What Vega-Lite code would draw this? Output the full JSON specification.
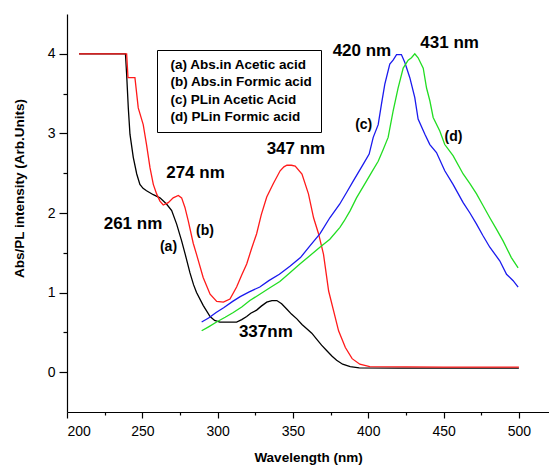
{
  "$schema": "https://vega.github.io/schema/vega-lite/v6.json",
  "width": 482,
  "height": 398,
  "autosize": "none",
  "padding": {"left": 67, "top": 14, "right": 0, "bottom": 53},
  "config": {
    "view": {"stroke": null},
    "font": "Liberation Sans",
    "axis": {"grid": false, "domainColor": "black", "tickColor": "black", "domainWidth": 1.2, "tickWidth": 1.2, "labelColor": "black", "titleColor": "black", "labelFont": "Liberation Sans", "titleFont": "Liberation Sans", "labelFontSize": 14, "titleFontSize": 13.5, "titleFontWeight": "bold"}
  },
  "datasets": {
    "spectra": [
      {"s": "(a) Abs.in Acetic acid", "x": 208, "y": 4},
      {"s": "(a) Abs.in Acetic acid", "x": 238.8, "y": 4},
      {"s": "(a) Abs.in Acetic acid", "x": 239.6, "y": 3.74},
      {"s": "(a) Abs.in Acetic acid", "x": 240.7, "y": 3.32},
      {"s": "(a) Abs.in Acetic acid", "x": 241.8, "y": 2.99},
      {"s": "(a) Abs.in Acetic acid", "x": 244, "y": 2.7},
      {"s": "(a) Abs.in Acetic acid", "x": 246.3, "y": 2.49},
      {"s": "(a) Abs.in Acetic acid", "x": 248.4, "y": 2.36},
      {"s": "(a) Abs.in Acetic acid", "x": 250.5, "y": 2.31},
      {"s": "(a) Abs.in Acetic acid", "x": 252.8, "y": 2.28},
      {"s": "(a) Abs.in Acetic acid", "x": 257.3, "y": 2.23},
      {"s": "(a) Abs.in Acetic acid", "x": 261.7, "y": 2.19},
      {"s": "(a) Abs.in Acetic acid", "x": 264, "y": 2.15},
      {"s": "(a) Abs.in Acetic acid", "x": 266.2, "y": 2.11},
      {"s": "(a) Abs.in Acetic acid", "x": 269.5, "y": 2.03},
      {"s": "(a) Abs.in Acetic acid", "x": 272.8, "y": 1.86},
      {"s": "(a) Abs.in Acetic acid", "x": 276.1, "y": 1.65},
      {"s": "(a) Abs.in Acetic acid", "x": 278.5, "y": 1.48},
      {"s": "(a) Abs.in Acetic acid", "x": 281.6, "y": 1.25},
      {"s": "(a) Abs.in Acetic acid", "x": 284, "y": 1.1},
      {"s": "(a) Abs.in Acetic acid", "x": 286, "y": 1.0},
      {"s": "(a) Abs.in Acetic acid", "x": 290.4, "y": 0.84},
      {"s": "(a) Abs.in Acetic acid", "x": 295, "y": 0.7},
      {"s": "(a) Abs.in Acetic acid", "x": 298, "y": 0.65},
      {"s": "(a) Abs.in Acetic acid", "x": 301.5, "y": 0.63},
      {"s": "(a) Abs.in Acetic acid", "x": 307, "y": 0.63},
      {"s": "(a) Abs.in Acetic acid", "x": 312.6, "y": 0.63},
      {"s": "(a) Abs.in Acetic acid", "x": 316, "y": 0.66},
      {"s": "(a) Abs.in Acetic acid", "x": 319.3, "y": 0.7},
      {"s": "(a) Abs.in Acetic acid", "x": 322, "y": 0.74},
      {"s": "(a) Abs.in Acetic acid", "x": 325.9, "y": 0.78},
      {"s": "(a) Abs.in Acetic acid", "x": 329, "y": 0.83},
      {"s": "(a) Abs.in Acetic acid", "x": 332.6, "y": 0.88},
      {"s": "(a) Abs.in Acetic acid", "x": 336, "y": 0.9},
      {"s": "(a) Abs.in Acetic acid", "x": 339.3, "y": 0.9},
      {"s": "(a) Abs.in Acetic acid", "x": 342.5, "y": 0.86},
      {"s": "(a) Abs.in Acetic acid", "x": 346, "y": 0.79},
      {"s": "(a) Abs.in Acetic acid", "x": 349, "y": 0.73},
      {"s": "(a) Abs.in Acetic acid", "x": 352.6, "y": 0.67},
      {"s": "(a) Abs.in Acetic acid", "x": 356, "y": 0.6},
      {"s": "(a) Abs.in Acetic acid", "x": 359, "y": 0.55},
      {"s": "(a) Abs.in Acetic acid", "x": 362.5, "y": 0.49},
      {"s": "(a) Abs.in Acetic acid", "x": 366, "y": 0.41},
      {"s": "(a) Abs.in Acetic acid", "x": 369, "y": 0.34},
      {"s": "(a) Abs.in Acetic acid", "x": 372.5, "y": 0.27},
      {"s": "(a) Abs.in Acetic acid", "x": 376, "y": 0.2},
      {"s": "(a) Abs.in Acetic acid", "x": 379, "y": 0.15},
      {"s": "(a) Abs.in Acetic acid", "x": 383, "y": 0.1},
      {"s": "(a) Abs.in Acetic acid", "x": 388, "y": 0.07},
      {"s": "(a) Abs.in Acetic acid", "x": 394, "y": 0.055},
      {"s": "(a) Abs.in Acetic acid", "x": 420, "y": 0.05},
      {"s": "(a) Abs.in Acetic acid", "x": 460, "y": 0.05},
      {"s": "(a) Abs.in Acetic acid", "x": 500, "y": 0.05},
      {"s": "(b) Abs.in Formic acid", "x": 208, "y": 4},
      {"s": "(b) Abs.in Formic acid", "x": 239.6, "y": 4},
      {"s": "(b) Abs.in Formic acid", "x": 240.5, "y": 3.7},
      {"s": "(b) Abs.in Formic acid", "x": 245.1, "y": 3.7},
      {"s": "(b) Abs.in Formic acid", "x": 247.3, "y": 3.32},
      {"s": "(b) Abs.in Formic acid", "x": 250.6, "y": 3.11},
      {"s": "(b) Abs.in Formic acid", "x": 252.8, "y": 2.86},
      {"s": "(b) Abs.in Formic acid", "x": 255.1, "y": 2.57},
      {"s": "(b) Abs.in Formic acid", "x": 257.3, "y": 2.36},
      {"s": "(b) Abs.in Formic acid", "x": 259.5, "y": 2.24},
      {"s": "(b) Abs.in Formic acid", "x": 261.7, "y": 2.15},
      {"s": "(b) Abs.in Formic acid", "x": 263.9, "y": 2.1},
      {"s": "(b) Abs.in Formic acid", "x": 267.2, "y": 2.13},
      {"s": "(b) Abs.in Formic acid", "x": 270.5, "y": 2.19},
      {"s": "(b) Abs.in Formic acid", "x": 273.9, "y": 2.22},
      {"s": "(b) Abs.in Formic acid", "x": 276.1, "y": 2.19},
      {"s": "(b) Abs.in Formic acid", "x": 278.3, "y": 2.07},
      {"s": "(b) Abs.in Formic acid", "x": 280.5, "y": 1.9},
      {"s": "(b) Abs.in Formic acid", "x": 283.8, "y": 1.62},
      {"s": "(b) Abs.in Formic acid", "x": 286, "y": 1.48},
      {"s": "(b) Abs.in Formic acid", "x": 290.4, "y": 1.19},
      {"s": "(b) Abs.in Formic acid", "x": 295, "y": 0.98},
      {"s": "(b) Abs.in Formic acid", "x": 299.4, "y": 0.89},
      {"s": "(b) Abs.in Formic acid", "x": 303.8, "y": 0.88},
      {"s": "(b) Abs.in Formic acid", "x": 308.2, "y": 0.92},
      {"s": "(b) Abs.in Formic acid", "x": 312.6, "y": 1.07},
      {"s": "(b) Abs.in Formic acid", "x": 316, "y": 1.22},
      {"s": "(b) Abs.in Formic acid", "x": 319.3, "y": 1.36},
      {"s": "(b) Abs.in Formic acid", "x": 322.5, "y": 1.55},
      {"s": "(b) Abs.in Formic acid", "x": 325.9, "y": 1.74},
      {"s": "(b) Abs.in Formic acid", "x": 329, "y": 1.98},
      {"s": "(b) Abs.in Formic acid", "x": 332.6, "y": 2.2},
      {"s": "(b) Abs.in Formic acid", "x": 337, "y": 2.37},
      {"s": "(b) Abs.in Formic acid", "x": 341.5, "y": 2.53},
      {"s": "(b) Abs.in Formic acid", "x": 344, "y": 2.58},
      {"s": "(b) Abs.in Formic acid", "x": 346, "y": 2.6},
      {"s": "(b) Abs.in Formic acid", "x": 349, "y": 2.6},
      {"s": "(b) Abs.in Formic acid", "x": 351.5, "y": 2.59},
      {"s": "(b) Abs.in Formic acid", "x": 356, "y": 2.49},
      {"s": "(b) Abs.in Formic acid", "x": 360.3, "y": 2.24},
      {"s": "(b) Abs.in Formic acid", "x": 363.7, "y": 1.94},
      {"s": "(b) Abs.in Formic acid", "x": 367, "y": 1.74},
      {"s": "(b) Abs.in Formic acid", "x": 370.3, "y": 1.48},
      {"s": "(b) Abs.in Formic acid", "x": 373.7, "y": 1.02},
      {"s": "(b) Abs.in Formic acid", "x": 377, "y": 0.77},
      {"s": "(b) Abs.in Formic acid", "x": 380.3, "y": 0.52},
      {"s": "(b) Abs.in Formic acid", "x": 384.8, "y": 0.31},
      {"s": "(b) Abs.in Formic acid", "x": 389.3, "y": 0.17},
      {"s": "(b) Abs.in Formic acid", "x": 394.4, "y": 0.1},
      {"s": "(b) Abs.in Formic acid", "x": 401, "y": 0.07},
      {"s": "(b) Abs.in Formic acid", "x": 450, "y": 0.065},
      {"s": "(b) Abs.in Formic acid", "x": 500, "y": 0.065},
      {"s": "(c) PLin Acetic Acid", "x": 289.4, "y": 0.63},
      {"s": "(c) PLin Acetic Acid", "x": 294, "y": 0.68},
      {"s": "(c) PLin Acetic Acid", "x": 299, "y": 0.75},
      {"s": "(c) PLin Acetic Acid", "x": 304, "y": 0.81},
      {"s": "(c) PLin Acetic Acid", "x": 310, "y": 0.89},
      {"s": "(c) PLin Acetic Acid", "x": 315, "y": 0.95},
      {"s": "(c) PLin Acetic Acid", "x": 321, "y": 1.01},
      {"s": "(c) PLin Acetic Acid", "x": 328, "y": 1.07},
      {"s": "(c) PLin Acetic Acid", "x": 334, "y": 1.15},
      {"s": "(c) PLin Acetic Acid", "x": 341, "y": 1.23},
      {"s": "(c) PLin Acetic Acid", "x": 348, "y": 1.33},
      {"s": "(c) PLin Acetic Acid", "x": 355, "y": 1.44},
      {"s": "(c) PLin Acetic Acid", "x": 361, "y": 1.58},
      {"s": "(c) PLin Acetic Acid", "x": 368, "y": 1.74},
      {"s": "(c) PLin Acetic Acid", "x": 374.5, "y": 1.94},
      {"s": "(c) PLin Acetic Acid", "x": 381, "y": 2.11},
      {"s": "(c) PLin Acetic Acid", "x": 386, "y": 2.27},
      {"s": "(c) PLin Acetic Acid", "x": 390, "y": 2.4},
      {"s": "(c) PLin Acetic Acid", "x": 396.6, "y": 2.61},
      {"s": "(c) PLin Acetic Acid", "x": 400.6, "y": 2.74},
      {"s": "(c) PLin Acetic Acid", "x": 403.3, "y": 2.95},
      {"s": "(c) PLin Acetic Acid", "x": 406.6, "y": 3.11},
      {"s": "(c) PLin Acetic Acid", "x": 408.8, "y": 3.37},
      {"s": "(c) PLin Acetic Acid", "x": 411, "y": 3.62},
      {"s": "(c) PLin Acetic Acid", "x": 414.3, "y": 3.87},
      {"s": "(c) PLin Acetic Acid", "x": 416.5, "y": 3.92},
      {"s": "(c) PLin Acetic Acid", "x": 418.8, "y": 3.99},
      {"s": "(c) PLin Acetic Acid", "x": 422, "y": 3.99},
      {"s": "(c) PLin Acetic Acid", "x": 424.3, "y": 3.89},
      {"s": "(c) PLin Acetic Acid", "x": 427.6, "y": 3.7},
      {"s": "(c) PLin Acetic Acid", "x": 430.9, "y": 3.45},
      {"s": "(c) PLin Acetic Acid", "x": 433.1, "y": 3.18},
      {"s": "(c) PLin Acetic Acid", "x": 437.6, "y": 2.99},
      {"s": "(c) PLin Acetic Acid", "x": 440.9, "y": 2.86},
      {"s": "(c) PLin Acetic Acid", "x": 445.3, "y": 2.76},
      {"s": "(c) PLin Acetic Acid", "x": 450.8, "y": 2.53},
      {"s": "(c) PLin Acetic Acid", "x": 456.3, "y": 2.36},
      {"s": "(c) PLin Acetic Acid", "x": 463, "y": 2.13},
      {"s": "(c) PLin Acetic Acid", "x": 467.5, "y": 2.0},
      {"s": "(c) PLin Acetic Acid", "x": 471.9, "y": 1.86},
      {"s": "(c) PLin Acetic Acid", "x": 476, "y": 1.72},
      {"s": "(c) PLin Acetic Acid", "x": 480.7, "y": 1.57},
      {"s": "(c) PLin Acetic Acid", "x": 487.3, "y": 1.4},
      {"s": "(c) PLin Acetic Acid", "x": 491.8, "y": 1.23},
      {"s": "(c) PLin Acetic Acid", "x": 496.2, "y": 1.15},
      {"s": "(c) PLin Acetic Acid", "x": 499.5, "y": 1.07},
      {"s": "(d) PLin Formic acid", "x": 289.4, "y": 0.52},
      {"s": "(d) PLin Formic acid", "x": 294, "y": 0.57},
      {"s": "(d) PLin Formic acid", "x": 299.3, "y": 0.63},
      {"s": "(d) PLin Formic acid", "x": 305, "y": 0.69},
      {"s": "(d) PLin Formic acid", "x": 310.4, "y": 0.75},
      {"s": "(d) PLin Formic acid", "x": 316, "y": 0.82},
      {"s": "(d) PLin Formic acid", "x": 321.4, "y": 0.9},
      {"s": "(d) PLin Formic acid", "x": 328, "y": 0.98},
      {"s": "(d) PLin Formic acid", "x": 334.7, "y": 1.06},
      {"s": "(d) PLin Formic acid", "x": 341.3, "y": 1.14},
      {"s": "(d) PLin Formic acid", "x": 348, "y": 1.25},
      {"s": "(d) PLin Formic acid", "x": 354.6, "y": 1.36},
      {"s": "(d) PLin Formic acid", "x": 361, "y": 1.46},
      {"s": "(d) PLin Formic acid", "x": 367.9, "y": 1.57},
      {"s": "(d) PLin Formic acid", "x": 374.5, "y": 1.67},
      {"s": "(d) PLin Formic acid", "x": 381.2, "y": 1.82},
      {"s": "(d) PLin Formic acid", "x": 384, "y": 1.9},
      {"s": "(d) PLin Formic acid", "x": 388, "y": 2.03},
      {"s": "(d) PLin Formic acid", "x": 392.2, "y": 2.19},
      {"s": "(d) PLin Formic acid", "x": 398.8, "y": 2.4},
      {"s": "(d) PLin Formic acid", "x": 402.5, "y": 2.52},
      {"s": "(d) PLin Formic acid", "x": 406.6, "y": 2.65},
      {"s": "(d) PLin Formic acid", "x": 410, "y": 2.8},
      {"s": "(d) PLin Formic acid", "x": 413.2, "y": 2.95},
      {"s": "(d) PLin Formic acid", "x": 416.5, "y": 3.28},
      {"s": "(d) PLin Formic acid", "x": 419.8, "y": 3.57},
      {"s": "(d) PLin Formic acid", "x": 423.2, "y": 3.82},
      {"s": "(d) PLin Formic acid", "x": 426.5, "y": 3.92},
      {"s": "(d) PLin Formic acid", "x": 428.7, "y": 3.95},
      {"s": "(d) PLin Formic acid", "x": 430.9, "y": 4.0},
      {"s": "(d) PLin Formic acid", "x": 433.1, "y": 3.95},
      {"s": "(d) PLin Formic acid", "x": 436.5, "y": 3.82},
      {"s": "(d) PLin Formic acid", "x": 438.7, "y": 3.57},
      {"s": "(d) PLin Formic acid", "x": 440.9, "y": 3.41},
      {"s": "(d) PLin Formic acid", "x": 443.1, "y": 3.2},
      {"s": "(d) PLin Formic acid", "x": 447.5, "y": 3.03},
      {"s": "(d) PLin Formic acid", "x": 450.8, "y": 2.86},
      {"s": "(d) PLin Formic acid", "x": 456.3, "y": 2.72},
      {"s": "(d) PLin Formic acid", "x": 463, "y": 2.49},
      {"s": "(d) PLin Formic acid", "x": 467.5, "y": 2.37},
      {"s": "(d) PLin Formic acid", "x": 471.9, "y": 2.24},
      {"s": "(d) PLin Formic acid", "x": 476, "y": 2.1},
      {"s": "(d) PLin Formic acid", "x": 480.7, "y": 1.94},
      {"s": "(d) PLin Formic acid", "x": 485, "y": 1.8},
      {"s": "(d) PLin Formic acid", "x": 489.5, "y": 1.65},
      {"s": "(d) PLin Formic acid", "x": 495, "y": 1.44},
      {"s": "(d) PLin Formic acid", "x": 499.5, "y": 1.31}
    ],
    "peaks": [
      {"label": "274 nm", "x": 285.3, "y": 2.5},
      {"label": "261 nm", "x": 243.8, "y": 1.86},
      {"label": "347 nm", "x": 352, "y": 2.8},
      {"label": "337nm", "x": 332, "y": 0.5},
      {"label": "420 nm", "x": 395.8, "y": 4.03},
      {"label": "431 nm", "x": 454, "y": 4.13}
    ],
    "tags": [
      {"label": "(a)", "x": 267.4, "y": 1.57},
      {"label": "(b)", "x": 291.6, "y": 1.78},
      {"label": "(c)", "x": 397, "y": 3.11},
      {"label": "(d)", "x": 456.6, "y": 2.95}
    ]
  },
  "layer": [
    {
      "data": {"name": "spectra"},
      "mark": {"type": "line", "strokeWidth": 1.3, "interpolate": "linear"},
      "encoding": {
        "x": {
          "field": "x", "type": "quantitative",
          "scale": {"domain": [200, 520], "nice": false, "zero": false},
          "axis": {
            "title": "Wavelength (nm)",
            "values": [200, 225, 250, 275, 300, 325, 350, 375, 400, 425, 450, 475, 500],
            "labelExpr": "datum.value % 50 === 0 ? format(datum.value, 'd') : ''",
            "tickSize": {"condition": {"test": "datum.value % 50 === 0", "value": 6}, "value": 3},
            "labelPadding": 6,
            "titlePadding": 12
          }
        },
        "y": {
          "field": "y", "type": "quantitative",
          "scale": {"domain": [-0.5, 4.5], "nice": false, "zero": false},
          "axis": {
            "title": "Abs/PL intensity (Arb.Units)",
            "values": [0, 0.5, 1, 1.5, 2, 2.5, 3, 3.5, 4],
            "labelExpr": "datum.value % 1 === 0 ? format(datum.value, 'd') : ''",
            "tickSize": {"condition": {"test": "datum.value % 1 === 0", "value": 8}, "value": 4},
            "labelPadding": 4,
            "titleX": -48,
            "titleY": 174,
            "titleBaseline": "middle"
          }
        },
        "color": {
          "field": "s", "type": "nominal",
          "scale": {
            "domain": ["(a) Abs.in Acetic acid", "(b) Abs.in Formic acid", "(c) PLin Acetic Acid", "(d) PLin Formic acid"],
            "range": ["#000000", "#ff1a1a", "#1a1aee", "#22dd22"]
          },
          "legend": {
            "title": null,
            "orient": "none",
            "legendX": 90,
            "legendY": 36,
            "strokeColor": "black",
            "fillColor": "white",
            "padding": 8,
            "symbolSize": 0,
            "symbolOpacity": 0,
            "symbolStrokeWidth": 0,
            "labelOffset": -8,
            "labelFont": "Liberation Sans",
            "labelFontSize": 13.5,
            "labelFontWeight": "bold",
            "labelColor": "black",
            "rowPadding": 2.5,
            "labelLimit": 300
          }
        },
        "order": {"field": "x", "type": "quantitative"}
      }
    },
    {
      "mark": {"type": "rule", "color": "black", "strokeWidth": 1.3},
      "encoding": {"y": {"datum": 4.5}}
    },
    {
      "data": {"name": "peaks"},
      "mark": {"type": "text", "font": "Liberation Sans", "fontWeight": "bold", "fontSize": 17, "align": "center", "baseline": "middle", "color": "black"},
      "encoding": {
        "x": {"field": "x", "type": "quantitative"},
        "y": {"field": "y", "type": "quantitative"},
        "text": {"field": "label"}
      }
    },
    {
      "data": {"name": "tags"},
      "mark": {"type": "text", "font": "Liberation Sans", "fontWeight": "bold", "fontSize": 14, "align": "center", "baseline": "middle", "color": "black"},
      "encoding": {
        "x": {"field": "x", "type": "quantitative"},
        "y": {"field": "y", "type": "quantitative"},
        "text": {"field": "label"}
      }
    }
  ]
}
